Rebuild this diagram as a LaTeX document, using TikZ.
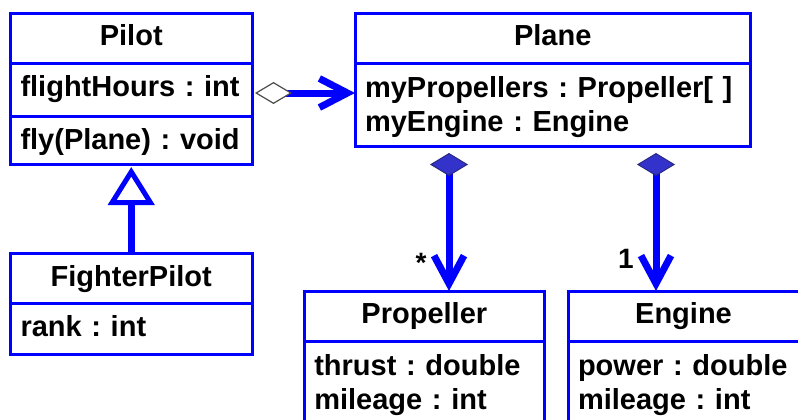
\documentclass[tikz,border=0pt]{standalone}
\usepackage{fontspec}
\setmainfont{Liberation Sans}
\usetikzlibrary{arrows.meta}
\definecolor{umlblue}{RGB}{0,0,255}
\definecolor{compfill}{RGB}{51,51,204}
\definecolor{compline}{RGB}{40,40,130}
\newcommand{\toprule}{\rule{0pt}{25pt}}

\begin{document}
\frenchspacing
\begin{tikzpicture}[x=1pt, y=-1pt,
    box/.style={draw=umlblue, line width=3pt, anchor=north west, outer sep=0pt,
        inner xsep=10pt, inner ysep=0pt, font=\bfseries\fontsize{29}{34}\selectfont},
    title/.style={box, align=center, text height=21pt, text depth=6pt},
    row/.style={box, align=left, text height=21pt, text depth=6pt},
    rows/.style={box, align=left},
    link/.style={umlblue, line width=7pt},
    mult/.style={anchor=base, font=\bfseries\fontsize{28}{28}\selectfont}]
    \useasboundingbox (0,0) rectangle (798,420);
    \clip (0,0) rectangle (798,420);

    % classes
    \node[title, text width=221.5pt, minimum height=50pt] (pilot) at (10.5,13.5) {Pilot};
    \node[row, text width=221.5pt, minimum height=53pt, text depth=9pt] (pilotattr) at (10.5,63.5) {flightHours : int};
    \node[row, text width=221.5pt, minimum height=47.5pt, text depth=2pt] (pilotmeth) at (10.5,116.5) {fly(Plane) : void};

    \node[title, text width=221.5pt, minimum height=50pt] (fighter) at (10.5,253.5) {FighterPilot};
    \node[row, text width=221.5pt, minimum height=51pt] (fighterattr) at (10.5,303.5) {rank : int};

    \node[title, text width=375.5pt, minimum height=50pt] (plane) at (355,13.5) {Plane};
    \node[rows, text width=375.5pt, minimum height=83pt] (planeattr) at (355,63.5) {\toprule myPropellers : Propeller[ ]\\myEngine : Engine};

    \node[title, text width=220pt, minimum height=50.5pt] (propeller) at (304.3,291) {Propeller};
    \node[rows, text width=220pt, minimum height=84pt] (propattr) at (304.3,341.5) {\toprule thrust : double\\mileage : int};

    \node[title, text width=211pt, minimum height=50.5pt] (engine) at (568,291) {Engine};
    \node[rows, text width=211pt, minimum height=84pt] (engineattr) at (568,341.5) {\toprule power : double\\mileage : int};

    % relations
    \draw[link, {Diamond[length=37pt, width=22pt, line width=1.2pt, color=black!70, fill=white]}-{Straight Barb[length=28pt, width=29pt]}, shorten <=3pt]
        ([yshift=-3pt]pilotattr.east) -- ([yshift=-3pt]pilotattr.east -| planeattr.west);
    \draw[link, -{Triangle[length=38pt, width=46pt, line width=5pt, fill=white]}, shorten >=3pt]
        (fighter.north) -- (pilotmeth.south);
    \draw[link, {Diamond[length=23pt, width=38pt, line width=1pt, color=compline, fill=compfill]}-{Straight Barb[length=28pt, width=30pt]}, shorten <=6.5pt]
        ([xshift=94pt]planeattr.south west) -- ([xshift=144.7pt]propeller.north west);
    \draw[link, {Diamond[length=23pt, width=38pt, line width=1pt, color=compline, fill=compfill]}-{Straight Barb[length=28pt, width=30pt]}, shorten <=6.5pt]
        ([xshift=301pt]planeattr.south west) -- ([xshift=88pt]engine.north west);

    \node[mult] (many) at (421,272) {*};
    \node[mult] (one) at (626,268) {1};

\end{tikzpicture}
\end{document}
